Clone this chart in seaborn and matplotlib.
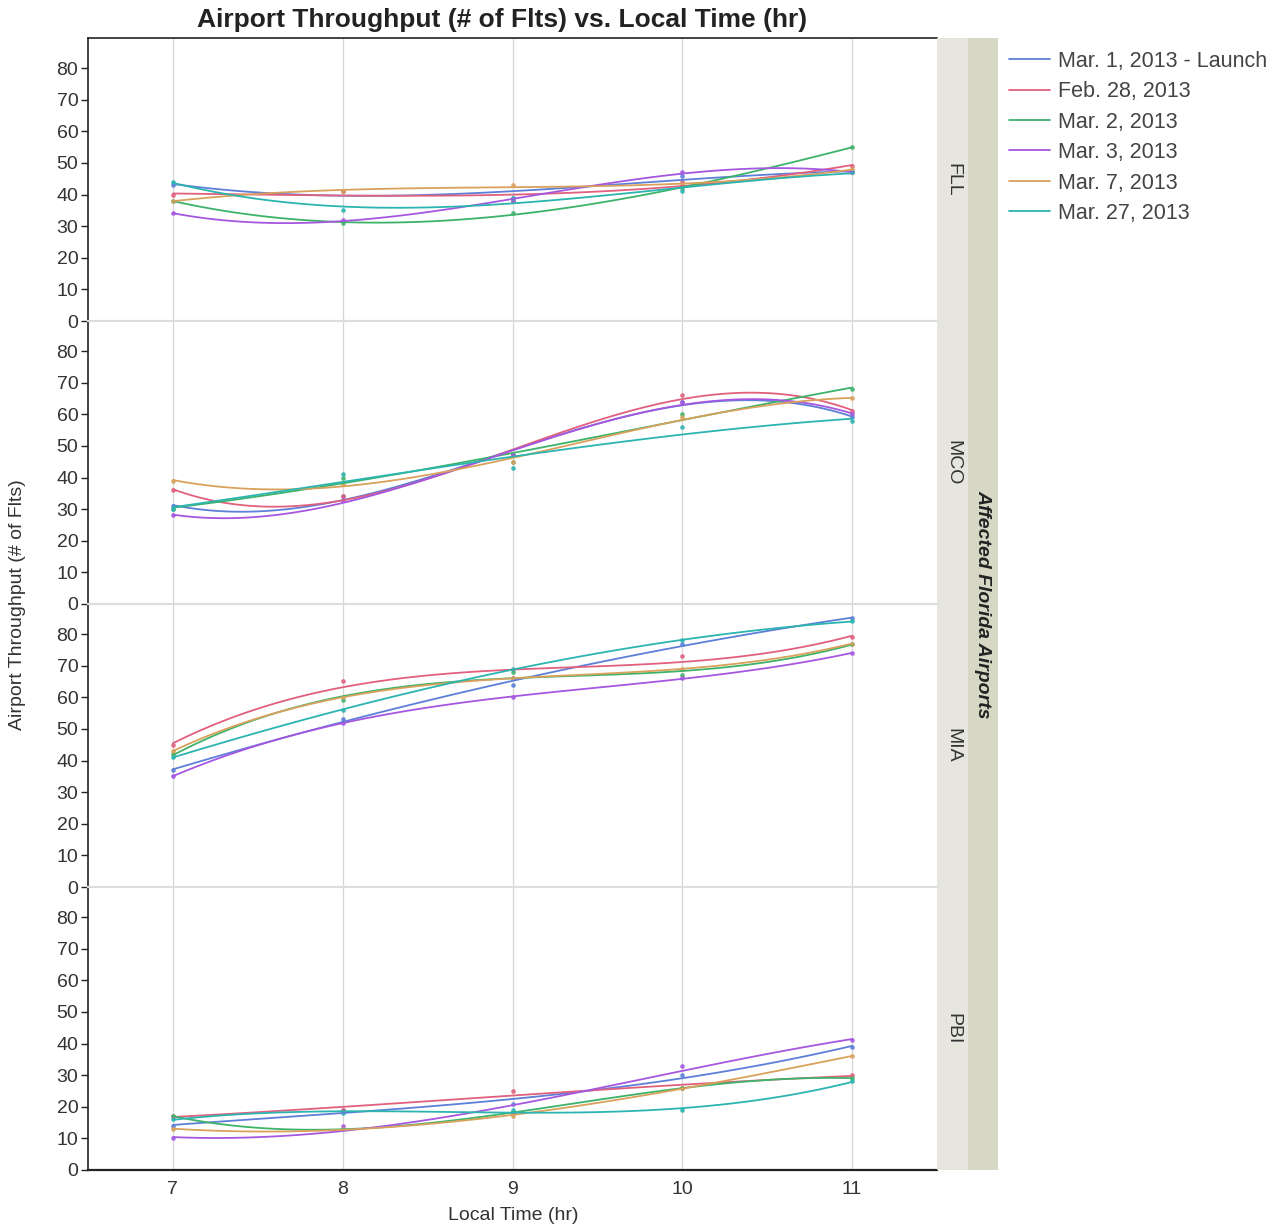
import matplotlib
matplotlib.use("Agg")
import matplotlib.pyplot as plt
import seaborn as sns
import pandas as pd
import numpy as np

sns.set_style("white")
plt.rcParams['font.family'] = ['Liberation Sans', 'DejaVu Sans']

hours = [7, 8, 9, 10, 11]
airports = ["FLL", "MCO", "MIA", "PBI"]
dates = ["Mar. 1, 2013 - Launch", "Feb. 28, 2013", "Mar. 2, 2013",
         "Mar. 3, 2013", "Mar. 7, 2013", "Mar. 27, 2013"]
colors = ["#5d7fd8", "#e0607e", "#3db36a", "#a557e0", "#d9a15c", "#2cb4b0"]

# throughput values (# of flights) per airport, per date, for hours 7..11
fll_mar1 = [43, 41, 39, 46, 47]
fll_feb28 = [40, 41, 38, 44, 49]
fll_mar2 = [38, 31, 34, 42, 55]
fll_mar3 = [34, 32, 38, 47, 47]
fll_mar7 = [38, 41, 43, 43, 48]
fll_mar27 = [44, 35, 39, 41, 47]

mco_mar1 = [31, 34, 47, 64, 59]
mco_feb28 = [36, 34, 47, 66, 61]
mco_mar2 = [30, 40, 45, 60, 68]
mco_mar3 = [28, 33, 47, 64, 60]
mco_mar7 = [39, 38, 45, 59, 65]
mco_mar27 = [30, 41, 43, 56, 58]

mia_mar1 = [37, 53, 64, 77, 85]
mia_feb28 = [45, 65, 66, 73, 79]
mia_mar2 = [42, 59, 68, 67, 77]
mia_mar3 = [35, 52, 60, 66, 74]
mia_mar7 = [43, 60, 66, 69, 77]
mia_mar27 = [41, 56, 69, 78, 84]

pbi_mar1 = [14, 19, 21, 30, 39]
pbi_feb28 = [17, 19, 25, 26, 30]
pbi_mar2 = [17, 13, 18, 26, 29]
pbi_mar3 = [10, 14, 18, 33, 41]
pbi_mar7 = [13, 13, 17, 26, 36]
pbi_mar27 = [16, 18, 19, 19, 28]

series = {
    "FLL": [fll_mar1, fll_feb28, fll_mar2, fll_mar3, fll_mar7, fll_mar27],
    "MCO": [mco_mar1, mco_feb28, mco_mar2, mco_mar3, mco_mar7, mco_mar27],
    "MIA": [mia_mar1, mia_feb28, mia_mar2, mia_mar3, mia_mar7, mia_mar27],
    "PBI": [pbi_mar1, pbi_feb28, pbi_mar2, pbi_mar3, pbi_mar7, pbi_mar27],
}

rows = []
for ap in airports:
    for d, vals in zip(dates, series[ap]):
        for h, v in zip(hours, vals):
            rows.append({"airport": ap, "date": d, "hour": h, "flts": v})
df = pd.DataFrame(rows)

W, H = 1279, 1229
fig = plt.figure(figsize=(W / 100, H / 100), dpi=100)

px_left, px_right, px_top, px_bot = 88, 937, 38, 1170
ph = (px_bot - px_top) / 4
axes = []
for i, ap in enumerate(airports):
    y0 = 1 - (px_top + ph * (i + 1)) / H
    ax = fig.add_axes([px_left / W, y0, (px_right - px_left) / W, ph / H])
    axes.append(ax)
    for d, c in zip(dates, colors):
        sub = df[(df.airport == ap) & (df.date == d)]
        sns.regplot(data=sub, x="hour", y="flts", order=3, ci=None, ax=ax,
                    color=c, scatter_kws=dict(s=11, linewidths=0, alpha=0.9),
                    line_kws=dict(lw=1.3, label=d))
    ax.set_xlim(6.5, 11.5)
    ax.set_ylim(0, 89.5)
    ax.set_yticks(range(0, 81, 10))
    ax.set_xticks(hours)
    ax.set_xlabel("")
    ax.set_ylabel("")
    ax.grid(axis="x", color="#d6d6d6", lw=0.9)
    ax.grid(axis="y", visible=False)
    ax.set_axisbelow(True)
    ax.tick_params(axis="y", direction="out", length=5, width=1, color="#222222",
                   labelsize=14, labelcolor="#333333", left=True, pad=2)
    ax.spines["right"].set_visible(False)
    ax.spines["left"].set_color("#222222")
    ax.spines["left"].set_linewidth(1.2)
    ax.spines["top"].set_color("#222222" if i == 0 else "#dddddd")
    ax.spines["top"].set_linewidth(1.2 if i == 0 else 1.5)
    ax.spines["bottom"].set_color("#222222" if i == 3 else "#dddddd")
    ax.spines["bottom"].set_linewidth(1.6 if i == 3 else 1.5)
    if i < 3:
        ax.tick_params(axis="x", labelbottom=False, length=0)
    else:
        ax.tick_params(axis="x", length=0, labelsize=14, labelcolor="#333333", pad=8)

    # facet strip
    sax = fig.add_axes([px_right / W, y0, 31 / W, ph / H])
    sax.set_facecolor("#e6e6de")
    sax.set_xticks([]); sax.set_yticks([])
    for s in sax.spines.values():
        s.set_visible(False)
    sax.text(0.5, 0.5, ap, rotation=-90, ha="center", va="center",
             fontsize=14, color="#333333", transform=sax.transAxes)

# outer strip
oax = fig.add_axes([968 / W, 1 - px_bot / H, 30 / W, (px_bot - px_top) / H])
oax.set_facecolor("#d7d7c6")
oax.set_xticks([]); oax.set_yticks([])
for s in oax.spines.values():
    s.set_visible(False)
oax.text(0.5, 0.5, "Affected Florida Airports", rotation=-90, ha="center",
         va="center", fontsize=14, fontweight="bold", fontstyle="italic",
         color="#222222", transform=oax.transAxes)

fig.text(((px_left + px_right) / 2 - 10) / W, 1 - 20 / H,
         "Airport Throughput (# of Flts) vs. Local Time (hr)",
         ha="center", va="center", fontsize=19, fontweight="bold", color="#222222")
fig.text(513 / W, 1 - 1215 / H, "Local Time (hr)", ha="center", va="center",
         fontsize=14, color="#333333")
fig.text(18 / W, 1 - 605 / H, "Airport Throughput (# of Flts)", rotation=90,
         ha="center", va="center", fontsize=14, color="#333333")

handles, labels = axes[0].get_legend_handles_labels()
leg = fig.legend(handles, labels, loc="upper left",
                 bbox_to_anchor=(1000 / W, 1 - 42 / H), frameon=False,
                 fontsize=15.5, handlelength=1.9, labelspacing=0.44,
                 handletextpad=0.4, borderaxespad=0)
for t in leg.get_texts():
    t.set_color("#444444")

fig.savefig("out.png", dpi=100)
